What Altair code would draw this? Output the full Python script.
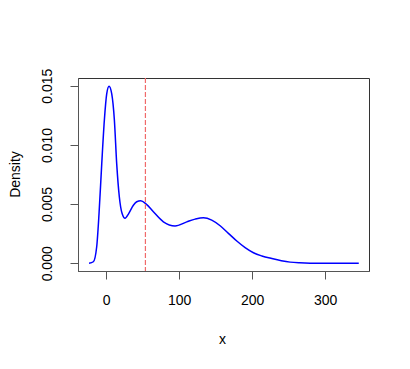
import altair as alt
import pandas as pd

# density curve
xs = [-23.3, -17.4, -12.8, -9.6, -5.9, -2.3, 0.9, 4.1, 7.8, 11.4, 14.6, 18.2, 22.0, 26.0,
      31.0, 37.4, 42.0, 47.4, 55.0, 64.8, 78.5, 94.5, 110.5, 121.9, 133.3, 144.7, 156.2,
      167.5, 179.0, 190.4, 201.8, 213.3, 227.0, 240.0, 252.0, 265.0, 279.5, 310.0, 346.0]
ys = [0.0, 0.00013, 0.0014, 0.0042, 0.0084, 0.0121, 0.0143, 0.01495, 0.0143, 0.0121,
      0.0084, 0.0056, 0.0042, 0.0038, 0.0042, 0.0049, 0.0052, 0.00528, 0.0050, 0.00435,
      0.0035, 0.00315, 0.0035, 0.00373, 0.00385, 0.00365, 0.00317, 0.00253, 0.00188,
      0.00132, 0.00089, 0.00062, 0.00040, 0.00022, 0.0001, 0.00004, 0.00001, 0.0, 0.0]
vline_x = [53.9]
x_ticks = [0, 100, 200, 300]
y_ticks = [0.0, 0.005, 0.010, 0.015]

df = pd.DataFrame({"x": xs, "y": ys})
vdf = pd.DataFrame({"v": vline_x})

FONT = "Liberation Sans"

xscale = alt.Scale(domain=[-38.4, 360], nice=False, zero=False)
yscale = alt.Scale(domain=[-0.00065, 0.01565], nice=False, zero=False)

line = alt.Chart(df).mark_line(color="#0000ff", strokeWidth=1.5, interpolate="monotone").encode(
    x=alt.X("x:Q", scale=xscale, title="x",
            axis=alt.Axis(values=x_ticks, format="d", grid=False, domain=True,
                          domainColor="#555555", tickColor="#555555", tickSize=8,
                          labelFontSize=14, labelFont=FONT, labelColor="black",
                          labelPadding=14, titleFont=FONT, titleFontSize=14,
                          titleFontWeight="normal", titleColor="black",
                          titleX=144, titleY=72, titleBaseline="alphabetic",
                          titleAlign="center")),
    y=alt.Y("y:Q", scale=yscale, title="Density",
            axis=alt.Axis(values=y_ticks, format=".3f",
                          grid=False, domain=True, domainColor="#555555",
                          tickColor="#555555", tickSize=8, labelAngle=270,
                          labelAlign="center", labelBaseline="bottom",
                          labelFontSize=14, labelFont=FONT, labelColor="black",
                          labelPadding=16, titleFont=FONT, titleFontSize=14,
                          titleFontWeight="normal", titleColor="black",
                          titleX=-59, titleY=96, titleBaseline="alphabetic",
                          titleAlign="center", titleAngle=270)),
)

rule = alt.Chart(vdf).mark_rule(color="#f06a6a", strokeDash=[5, 2], strokeWidth=1.2).encode(
    x=alt.X("v:Q", scale=xscale)
)

chart = (line + rule).properties(
    width=291, height=193,
    autosize=alt.AutoSizeParams(type="none"),
    padding={"left": 70, "top": 70, "right": 33, "bottom": 80},
    background="white",
).configure_view(stroke="#333333", strokeWidth=1)

chart.save("out.html", embed_options={"renderer": "svg", "actions": False})
